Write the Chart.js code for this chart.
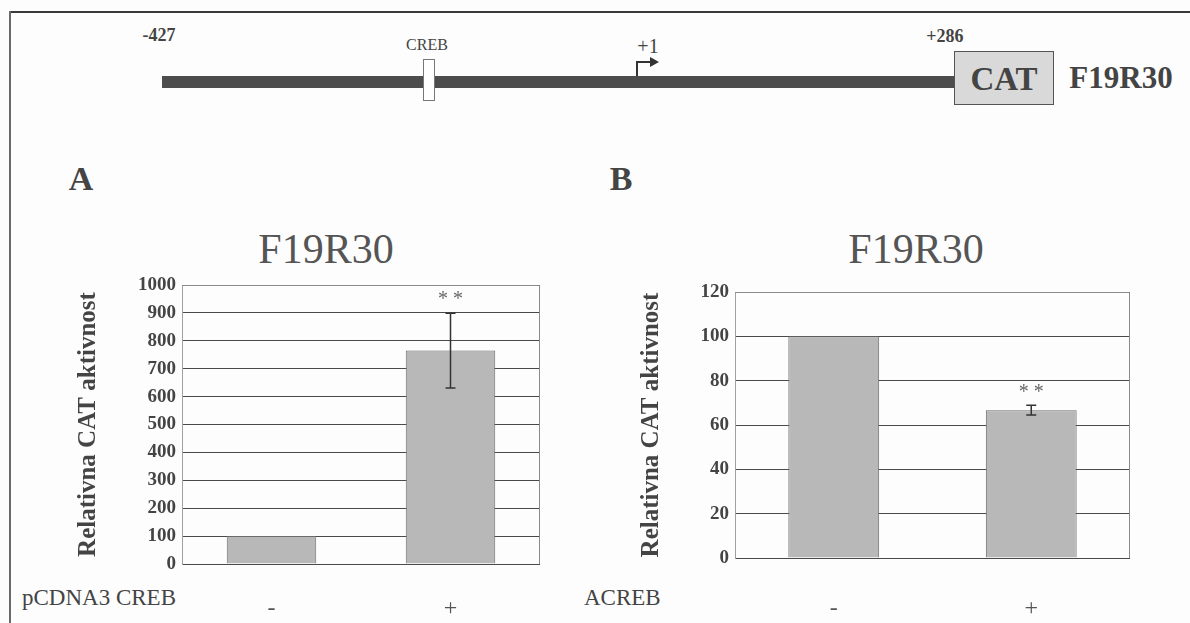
<!DOCTYPE html>
<html>
<head>
<meta charset="utf-8">
<script src="https://cdn.jsdelivr.net/npm/chart.js@4"></script>
<style>
  html, body { margin: 0; padding: 0; background: #fdfdfd; }
  body { width: 1190px; height: 623px; position: relative; overflow: hidden; font-family: "Times New Roman", Times, "Liberation Serif", "DejaVu Serif", serif; color: #444; }
  .abs { position: absolute; }
  .txt { position: absolute; white-space: nowrap; transform: translate(-50%, -50%); }
  .frame-top { left: 10px; top: 11px; width: 1180px; height: 2px; background: #3a3a3a; }
  .frame-left { left: 9px; top: 11px; width: 2px; height: 612px; background: #6a6a6a; }
  .dna { left: 162px; top: 76px; width: 793px; height: 12px; background: #4d4d4d; }
  .creb-box { left: 423px; top: 59px; width: 10px; height: 40px; background: #fff; border: 1px solid #777; }
  .cat-box { left: 954px; top: 51px; width: 98px; height: 52px; background: #d9d9d9; border: 1px solid #555; }
  canvas { position: absolute; }
</style>
</head>
<body>
<div class="abs frame-top"></div>
<div class="abs frame-left"></div>

<!-- promoter schematic -->
<div class="abs dna"></div>
<div class="abs creb-box"></div>
<div class="abs cat-box"></div>
<svg class="abs" style="left:0;top:0" width="1190" height="120">
  <path d="M637 76 L637 62 L652 62" fill="none" stroke="#333" stroke-width="2"/>
  <path d="M650 57 L659 62 L650 67 Z" fill="#333"/>
</svg>
<div class="txt" style="left:159px;top:35px;font-size:18px;font-weight:bold;">-427</div>
<div class="txt" style="left:427px;top:45px;font-size:16px;">CREB</div>
<div class="txt" style="left:648px;top:46px;font-size:20px;">+1</div>
<div class="txt" style="left:945px;top:36px;font-size:18px;font-weight:bold;">+286</div>
<div class="txt" style="left:1004px;top:79px;font-size:33px;font-weight:bold;">CAT</div>
<div class="txt" style="left:1121px;top:78px;font-size:31px;font-weight:bold;">F19R30</div>

<!-- panel letters and titles -->
<div class="txt" style="left:81px;top:179px;font-size:34px;font-weight:bold;">A</div>
<div class="txt" style="left:621px;top:179px;font-size:34px;font-weight:bold;">B</div>
<div class="txt" style="left:326px;top:249px;font-size:42px;color:#555;">F19R30</div>
<div class="txt" style="left:916px;top:249px;font-size:42px;color:#555;">F19R30</div>

<div class="abs" style="left:22px;top:585px;font-size:23px;">pCDNA3 CREB</div>
<div class="abs" style="left:584px;top:585px;font-size:23px;">ACREB</div>

<canvas id="chartA" width="560" height="408" style="left:0;top:215px;width:560px;height:408px"></canvas>
<canvas id="chartB" width="630" height="408" style="left:560px;top:215px;width:630px;height:408px"></canvas>

<script>
const categories = ['-', '+'];

const valuesA = [100, 765];
const errorsA = [0, 134];
const starsA  = ['', '* *'];
const ticksA  = { min: 0, max: 1000, step: 100 };

const valuesB = [100, 66.7];
const errorsB = [0, 2.2];
const starsB  = ['', '* *'];
const ticksB  = { min: 0, max: 120, step: 20 };

const serif = '"Times New Roman", Times, "Liberation Serif", "DejaVu Serif", serif';

// plot frame (top + right edges) drawn before the bars
const framePlugin = {
  id: 'frame',
  beforeDatasetsDraw(chart) {
    const { ctx, chartArea: a } = chart;
    ctx.save();
    ctx.strokeStyle = '#8a8a8a';
    ctx.lineWidth = 1;
    ctx.beginPath();
    ctx.moveTo(a.left, a.top + 0.5);
    ctx.lineTo(a.right - 0.5, a.top + 0.5);
    ctx.lineTo(a.right - 0.5, a.bottom);
    ctx.stroke();
    ctx.restore();
  }
};

// error bars and significance stars from the series arrays
const errorPlugin = {
  id: 'errors',
  afterDatasetsDraw(chart, args, opts) {
    const { ctx } = chart;
    const y = chart.scales.y;
    const meta = chart.getDatasetMeta(0);
    const vals = chart.data.datasets[0].data;
    ctx.save();
    meta.data.forEach((bar, i) => {
      const e = opts.errors[i];
      const top = y.getPixelForValue(vals[i] + e);
      const bot = y.getPixelForValue(vals[i] - e);
      if (e > 0) {
        ctx.strokeStyle = '#333';
        ctx.lineWidth = 1.5;
        ctx.beginPath();
        ctx.moveTo(bar.x, top); ctx.lineTo(bar.x, bot);
        ctx.moveTo(bar.x - 5, top); ctx.lineTo(bar.x + 5, top);
        ctx.moveTo(bar.x - 5, bot); ctx.lineTo(bar.x + 5, bot);
        ctx.stroke();
      }
      if (opts.stars[i]) {
        ctx.fillStyle = '#666';
        ctx.font = `20px ${serif}`;
        ctx.textAlign = 'center';
        ctx.textBaseline = 'middle';
        ctx.fillText(opts.stars[i], bar.x, top - 13);
      }
    });
    ctx.restore();
  }
};

function makeChart(id, values, errors, stars, t, lay) {
  return new Chart(document.getElementById(id), {
    type: 'bar',
    data: {
      labels: categories,
      datasets: [{
        data: values,
        backgroundColor: '#b8b8b8',
        borderColor: '#6a6a6a',
        borderWidth: 1,
        barPercentage: 1,
        categoryPercentage: lay.catPct
      }]
    },
    options: {
      responsive: false,
      animation: false,
      layout: { padding: { top: lay.top, right: lay.right, left: lay.left, bottom: 0 } },
      plugins: {
        legend: { display: false },
        tooltip: { enabled: false },
        errors: { errors, stars }
      },
      scales: {
        x: {
          grid: { display: false },
          border: { display: false },
          ticks: { color: '#555', font: { family: serif, size: 24 }, padding: lay.xPad },
          afterFit: s => { s.height = lay.xHeight; }
        },
        y: {
          min: t.min, max: t.max,
          ticks: {
            stepSize: t.step, color: '#444', padding: 6,
            font: { family: serif, size: 19, weight: 'bold' },
            callback: v => String(v)
          },
          grid: { color: '#4a4a4a', lineWidth: 1, drawTicks: false },
          border: { display: true, color: '#a0a0a0' },
          title: {
            display: true, text: 'Relativna CAT aktivnost', color: '#444',
            font: { family: serif, size: 25, weight: 'bold' }, padding: 0
          },
          afterFit: s => { s.width = lay.yWidth; }
        }
      }
    },
    plugins: [framePlugin, errorPlugin]
  });
}

makeChart('chartA', valuesA, errorsA, starsA, ticksA,
  { top: 70, right: 20, left: 74, yWidth: 108, xHeight: 59, xPad: 22, catPct: 0.5 });
makeChart('chartB', valuesB, errorsB, starsB, ticksB,
  { top: 77, right: 60, left: 77, yWidth: 98, xHeight: 65, xPad: 28, catPct: 0.46 });
</script>
</body>
</html>
